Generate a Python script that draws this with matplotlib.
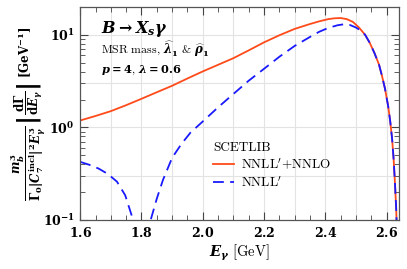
import numpy as np
import matplotlib
matplotlib.use('Agg')
import matplotlib.pyplot as plt
from matplotlib.ticker import MultipleLocator, FuncFormatter, NullFormatter

plt.rcParams['font.family'] = 'serif'
plt.rcParams['font.serif'] = ['cmr10', 'DejaVu Serif']
plt.rcParams['mathtext.fontset'] = 'custom'
plt.rcParams['mathtext.rm'] = 'DejaVu Serif:bold'
plt.rcParams['mathtext.bf'] = 'DejaVu Serif:bold'
plt.rcParams['mathtext.it'] = 'DejaVu Serif:bold:italic'
plt.rcParams['mathtext.sf'] = 'DejaVu Serif:bold'
plt.rcParams['mathtext.fallback'] = 'cm'
plt.rcParams['axes.formatter.use_mathtext'] = True

# spectrum values
E_red = [1.60, 1.65, 1.70, 1.75, 1.80, 1.85, 1.90, 1.95, 2.00, 2.05, 2.10, 2.15, 2.20,
         2.25, 2.30, 2.35, 2.38, 2.41, 2.43, 2.45, 2.47, 2.49, 2.51, 2.53, 2.545, 2.56,
         2.575, 2.585, 2.595, 2.605, 2.612, 2.618, 2.623, 2.627, 2.631, 2.634]
y_red = [1.19, 1.33, 1.50, 1.74, 2.04, 2.40, 2.82, 3.38, 4.03, 4.75, 5.6, 6.8, 8.3,
         9.9, 11.6, 13.1, 14.0, 14.8, 15.1, 15.2, 14.8, 13.8, 12.0, 10.0, 8.2, 6.4,
         4.8, 3.6, 2.6, 1.7, 1.15, 0.75, 0.45, 0.26, 0.14, 0.07]

E_blue = [1.60, 1.63, 1.66, 1.69, 1.72, 1.747, 1.77, 1.785, 1.80, 1.815, 1.83, 1.85,
          1.87, 1.90, 1.93, 1.96, 2.00, 2.05, 2.10, 2.15, 2.20, 2.25, 2.30, 2.35, 2.38,
          2.41, 2.44, 2.46, 2.48, 2.50, 2.52, 2.53, 2.545, 2.56, 2.575, 2.585, 2.595,
          2.605, 2.612, 2.618, 2.623, 2.627, 2.631, 2.634]
y_blue = [0.425, 0.395, 0.36, 0.315, 0.26, 0.185, 0.107, 0.06, 0.02, 0.05, 0.10, 0.17,
          0.27, 0.47, 0.66, 0.88, 1.16, 1.65, 2.3, 3.2, 4.3, 5.8, 7.6, 9.5, 10.8,
          11.9, 12.7, 13.0, 12.8, 12.0, 10.9, 10.0, 8.2, 6.4, 4.8, 3.6, 2.6,
          1.7, 1.15, 0.75, 0.45, 0.26, 0.14, 0.07]

fig = plt.figure(figsize=(4.07, 2.69), dpi=100)
ax = fig.add_axes([0.197, 0.182, 0.783, 0.792])

for xg in np.arange(1.7, 2.65, 0.1):
    ax.axvline(xg, color='#e3e3e3', lw=0.8, zorder=0)
for yg in [0.3, 1, 3, 10]:
    ax.axhline(yg, color='#e3e3e3', lw=0.8, zorder=0)

ax.plot(E_red, y_red, color='#ff4a1a', lw=1.3, label=r'NNLL$^{\prime}$+NNLO')
ax.plot(E_blue, y_blue, color='#1a1aff', lw=1.3, dashes=(6, 3.5), label=r'NNLL$^{\prime}$')

ax.set_yscale('log')
ax.set_xlim(1.6, 2.64)
ax.set_ylim(0.1, 20)

ax.xaxis.set_major_locator(MultipleLocator(0.2))
ax.xaxis.set_minor_locator(MultipleLocator(0.05))
ax.xaxis.set_major_formatter(FuncFormatter(lambda v, p: r'$\mathbf{%.1f}$' % v))
ax.yaxis.set_major_formatter(FuncFormatter(lambda v, p: r'$\mathbf{10^{%d}}$' % round(np.log10(v))))
ax.yaxis.set_minor_formatter(NullFormatter())
ax.tick_params(which='both', direction='in', top=True, right=True, labelsize=9, color='#444444')
ax.tick_params(which='major', length=6, width=0.8, pad=4)
ax.tick_params(which='minor', length=3.5, width=0.6)
for s in ax.spines.values():
    s.set_color('#555555')
    s.set_linewidth(0.9)

ax.set_xlabel(r'$E_\gamma$ [GeV]', fontsize=10.5, labelpad=2)
ax.set_ylabel(r'$\dfrac{m_b^3}{\Gamma_0|C_7^{\rm incl}|^2 E_\gamma^3}\,\left|\dfrac{\mathrm{d}\Gamma}{\mathrm{d}E_\gamma}\right|\;[\mathrm{GeV}^{-1}]$',
              fontsize=8.5)
ax.yaxis.set_label_coords(-0.1, 0.5)

ax.text(0.065, 0.88, r'$B\rightarrow X_s\gamma$', transform=ax.transAxes, fontsize=11.5)
ax.text(0.065, 0.778, r'MSR mass, $\widehat{\lambda}_1$ & $\widehat{\rho}_1$', transform=ax.transAxes, fontsize=8.5)
ax.text(0.065, 0.69, r'$p=4$, $\lambda=0.6$', transform=ax.transAxes, fontsize=8.2)

leg = ax.legend(loc='lower left', bbox_to_anchor=(0.38, 0.085), frameon=False,
                prop={'family': 'cmr10', 'size': 9.5, 'math_fontfamily': 'cm'},
                title='SCETLIB', handlelength=1.6, handletextpad=0.5, labelspacing=0.25)
leg.get_title().set_fontsize(9.5)
leg._legend_box.align = 'left'

fig.savefig('out.png', dpi=100)
